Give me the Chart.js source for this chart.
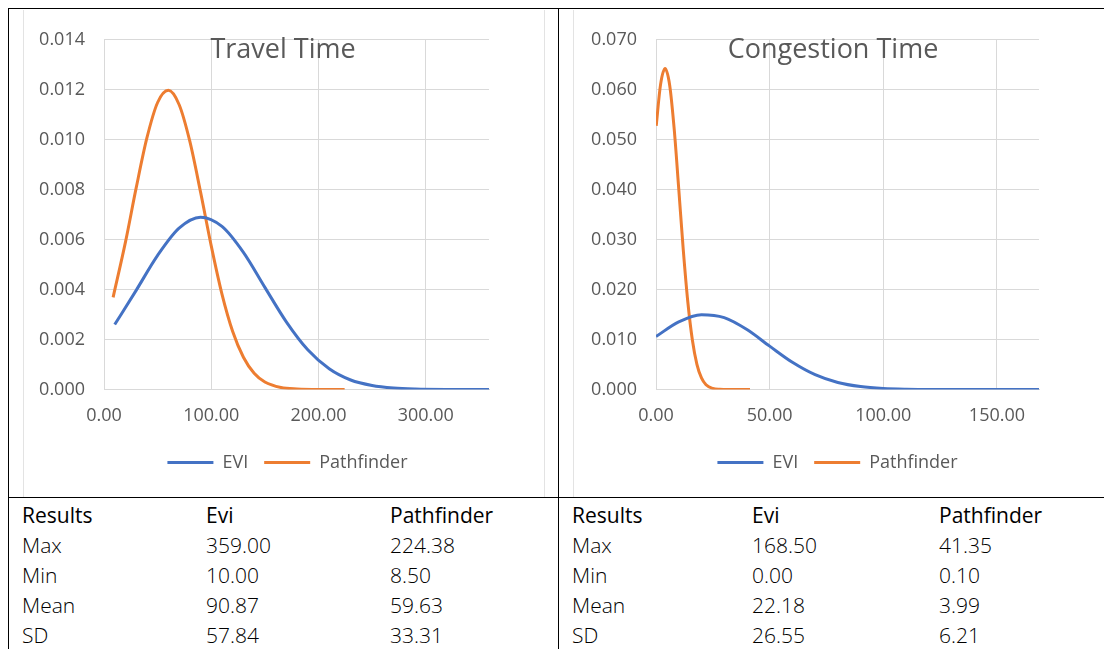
<!DOCTYPE html>
<html>
<head>
<meta charset="utf-8">
<script src="https://cdn.jsdelivr.net/npm/chart.js@4"></script>
<style>
  body { margin: 0; background: #fff; width: 1104px; height: 649px; overflow: hidden; position: relative; font-family: 'Open Sans', sans-serif; }
  .line { position: absolute; background: #000; }
  .faint { position: absolute; background: #e3e3e3; }
  .box { position: absolute; top: 10px; width: 521px; height: 486px; }
  .title { position: absolute; top: 30px; font-size: 27px; color: #595959; white-space: nowrap; transform: translateX(-50%); line-height: 36px; }
  .cell { position: absolute; font-size: 21px; line-height: 30px; color: #000; white-space: nowrap; font-weight: 300; }
  .cell.head { font-weight: 400; }
</style>
</head>
<body>
<div class="line" style="left:8px;top:8px;width:1096px;height:1px"></div>
<div class="line" style="left:8px;top:8px;width:1px;height:641px"></div>
<div class="line" style="left:558px;top:8px;width:1px;height:641px"></div>
<div class="line" style="left:8px;top:497px;width:1096px;height:1px"></div>
<div class="faint" style="left:23px;top:10px;width:1px;height:487px"></div>
<div class="faint" style="left:544px;top:10px;width:1px;height:487px"></div>
<div class="faint" style="left:573px;top:10px;width:1px;height:487px"></div>

<div class="box" style="left:23px"><canvas id="travelChart"></canvas></div>
<div class="box" style="left:573px"><canvas id="congestionChart"></canvas></div>
<div class="title" style="left:283px">Travel Time</div>
<div class="title" style="left:833px">Congestion Time</div>
<div id="tables"></div>

<script>
// travel time curves
const travelEviX = [10, 30, 50, 70, 90, 110, 130, 150, 170, 190, 210, 230, 250, 270, 290, 320, 359];
const travelEviY = [0.00260, 0.00397, 0.00537, 0.00646, 0.00690, 0.00653, 0.00549, 0.00409, 0.00271, 0.00159, 0.00083, 0.00038, 0.00016, 0.00006, 0.00002, 0.000003, 0];
const travelPathX = [8.5, 20, 30, 40, 50, 60, 70, 80, 90, 100, 110, 120, 130, 140, 150, 165, 180, 200, 224.38];
const travelPathY = [0.00369, 0.00590, 0.00807, 0.01007, 0.01149, 0.01198, 0.01141, 0.00994, 0.00791, 0.00575, 0.00382, 0.00232, 0.00129, 0.00065, 0.00030, 0.00008, 0.00002, 0.000001, 0];

// congestion time curves
const congEviX = [0, 10, 20, 30, 40, 50, 60, 70, 80, 90, 100, 110, 125, 145, 168.5];
const congEviY = [0.01060, 0.01353, 0.01498, 0.01439, 0.01200, 0.00868, 0.00545, 0.00297, 0.00140, 0.00058, 0.00020, 0.00006, 0.00001, 0, 0];
const congPathX = [0.1, 2, 4, 6, 8, 10, 12, 14, 16, 18, 20, 22, 25, 28, 32, 41.35];
const congPathY = [0.05279, 0.06103, 0.06424, 0.06096, 0.05215, 0.04021, 0.02796, 0.01752, 0.00990, 0.00504, 0.00231, 0.00096, 0.00021, 0.00004, 0, 0];

const seriesNames = ['EVI', 'Pathfinder'];

// results tables
const tableHead = ['Results', 'Evi', 'Pathfinder'];
const rowLabels = ['Max', 'Min', 'Mean', 'SD'];
const travelEviStats = ['359.00', '10.00', '90.87', '57.84'];
const travelPathStats = ['224.38', '8.50', '59.63', '33.31'];
const congEviStats = ['168.50', '0.00', '22.18', '26.55'];
const congPathStats = ['41.35', '0.10', '3.99', '6.21'];

Chart.defaults.font.family = "'Open Sans', sans-serif";
Chart.defaults.font.size = 18;
Chart.defaults.color = '#595959';

function toPoints(xs, ys) {
    return xs.map((x, i) => ({ x: x, y: ys[i] }));
}

function makeChart(id, eviPts, pathPts, xMax, xStep, yMax, yStep, yWidth, legendShift) {
    const ctx = document.getElementById(id).getContext('2d');
    const colors = ['#4472C4', '#ED7D31'];
    return new Chart(ctx, {
        type: 'scatter',
        data: {
            datasets: [eviPts, pathPts].map((pts, i) => ({
                label: seriesNames[i],
                data: pts,
                showLine: true,
                borderColor: colors[i],
                backgroundColor: colors[i],
                borderWidth: 3,
                pointRadius: 0,
                cubicInterpolationMode: 'monotone'
            }))
        },
        options: {
            responsive: true,
            maintainAspectRatio: false,
            animation: false,
            layout: { padding: { top: 25, right: 55, left: 0, bottom: 14.5 } },
            scales: {
                x: {
                    type: 'linear',
                    min: 0,
                    max: xMax,
                    grid: { color: '#d9d9d9', drawTicks: false },
                    border: { color: '#d9d9d9' },
                    ticks: {
                        stepSize: xStep,
                        includeBounds: false,
                        padding: 16,
                        callback: v => v.toFixed(2)
                    },
                    afterFit: scale => { scale.height = 48; }
                },
                y: {
                    min: 0,
                    max: yMax,
                    grid: { color: '#d9d9d9', drawTicks: false },
                    border: { color: '#d9d9d9' },
                    ticks: {
                        stepSize: yStep,
                        padding: 19,
                        callback: v => v.toFixed(3)
                    },
                    afterFit: scale => { scale.width = yWidth; }
                }
            },
            plugins: {
                tooltip: { enabled: false },
                legend: {
                    position: 'bottom',
                    fullSize: false,
                    labels: {
                        boxWidth: 46,
                        boxHeight: 3,
                        padding: 16,
                        generateLabels: chart => Chart.defaults.plugins.legend.labels.generateLabels(chart)
                            .map(l => Object.assign(l, { lineWidth: 0, fillStyle: l.strokeStyle }))
                    }
                }
            }
        },
        plugins: [{
            // excel centres the legend on the whole chart box, not the plot
            id: 'legendShift',
            afterLayout(chart) {
                chart.legend.left -= legendShift;
                chart.legend.right -= legendShift;
            }
        }]
    });
}

makeChart('travelChart', toPoints(travelEviX, travelEviY), toPoints(travelPathX, travelPathY), 359, 100, 0.014, 0.002, 81, 9);
makeChart('congestionChart', toPoints(congEviX, congEviY), toPoints(congPathX, congPathY), 168.5, 50, 0.07, 0.01, 83, 10);

function buildTable(left, colX, eviStats, pathStats) {
    const holder = document.getElementById('tables');
    const rows = [tableHead].concat(rowLabels.map((r, i) => [r, eviStats[i], pathStats[i]]));
    rows.forEach((row, r) => {
        row.forEach((txt, c) => {
            const d = document.createElement('div');
            d.className = 'cell' + (r === 0 ? ' head' : '');
            d.style.left = (left + colX[c]) + 'px';
            d.style.top = (500 + r * 30) + 'px';
            d.textContent = txt;
            holder.appendChild(d);
        });
    });
}

buildTable(0, [22, 206, 390], travelEviStats, travelPathStats);
buildTable(550, [22, 202, 389], congEviStats, congPathStats);
</script>
</body>
</html>
